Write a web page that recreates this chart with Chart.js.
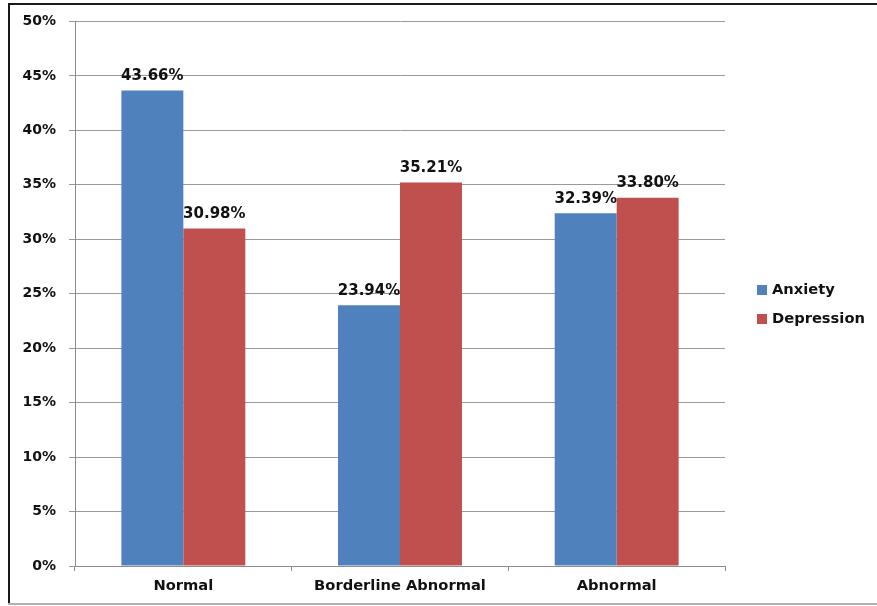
<!DOCTYPE html>
<html>
<head>
<meta charset="utf-8">
<script src="https://cdn.jsdelivr.net/npm/chart.js@4/dist/chart.umd.min.js"></script>
<style>
html,body{margin:0;padding:0;background:#fff;}
#wrap{position:relative;width:877px;height:606px;}
#frameTop{position:absolute;left:8px;top:3px;width:869px;height:0;border-top:2px solid #1a1a1a;}
#frameLeft{position:absolute;left:8px;top:3px;width:0;height:601px;border-left:2px solid #1a1a1a;}
#frameBottom{position:absolute;left:8px;top:603px;width:869px;height:0;border-top:2px solid #b0b0b0;}
canvas{position:absolute;left:0;top:0;}
</style>
</head>
<body>
<div id="wrap">
<canvas id="c" width="877" height="606"></canvas>
<div id="frameTop"></div><div id="frameLeft"></div><div id="frameBottom"></div>
</div>
<script>
const categories = ["Normal", "Borderline Abnormal", "Abnormal"];
const seriesNames = ["Anxiety", "Depression"];
const anxiety = [43.66, 23.94, 32.39];
const depression = [30.98, 35.21, 33.80];
const yTicks = ["0%", "5%", "10%", "15%", "20%", "25%", "30%", "35%", "40%", "45%", "50%"];

const FONT = "'DejaVu Sans', Verdana, sans-serif";

const valueLabels = {
  id: 'valueLabels',
  afterDatasetsDraw(chart) {
    const ctx = chart.ctx;
    ctx.save();
    ctx.font = "bold 15px " + FONT;
    ctx.fillStyle = "#111";
    ctx.textAlign = "center";
    ctx.textBaseline = "bottom";
    chart.data.datasets.forEach((ds, di) => {
      chart.getDatasetMeta(di).data.forEach((bar, i) => {
        ctx.fillText(ds.data[i].toFixed(2) + "%", bar.x, bar.y - 7);
      });
    });
    ctx.restore();
  }
};

const customLegend = {
  id: 'customLegend',
  afterDraw(chart) {
    const ctx = chart.ctx;
    ctx.save();
    ctx.font = "bold 14.7px " + FONT;
    ctx.textBaseline = "middle";
    ctx.textAlign = "left";
    const x = chart.chartArea.right + 32;
    const y0 = 290;
    chart.data.datasets.forEach((ds, i) => {
      const y = y0 + i * 29;
      ctx.fillStyle = ds.backgroundColor;
      ctx.fillRect(x, y - 5, 10, 10);
      ctx.fillStyle = "#111";
      ctx.fillText(ds.label, x + 15, y);
    });
    ctx.restore();
  }
};

new Chart(document.getElementById('c'), {
  type: 'bar',
  data: {
    labels: categories,
    datasets: [
      { label: seriesNames[0], data: anxiety, backgroundColor: "#4F81BD", categoryPercentage: 0.572, barPercentage: 1.0 },
      { label: seriesNames[1], data: depression, backgroundColor: "#C0504D", categoryPercentage: 0.572, barPercentage: 1.0 }
    ]
  },
  options: {
    responsive: false,
    animation: false,
    layout: { padding: { top: 21, right: 152, bottom: 0, left: 0 } },
    plugins: { legend: { display: false }, tooltip: { enabled: false } },
    scales: {
      x: {
        afterFit(s) { s.height = 40; },
        grid: { offset: true, drawOnChartArea: false, drawTicks: true, tickLength: 5, color: "#8c8c8c" },
        border: { color: "#8c8c8c" },
        ticks: { color: "#111", font: { family: FONT, size: 14.7, weight: 'bold' }, padding: 6 }
      },
      y: {
        min: 0, max: 50,
        afterFit(s) { s.width = 75; },
        grid: { color: "#999", tickLength: 6, drawTicks: true },
        border: { color: "#8c8c8c" },
        ticks: {
          stepSize: 5,
          color: "#111",
          font: { family: FONT, size: 14, weight: 'bold' },
          padding: 13,
          callback: (v, i) => yTicks[i]
        }
      }
    }
  },
  plugins: [valueLabels, customLegend]
});
</script>
</body>
</html>
